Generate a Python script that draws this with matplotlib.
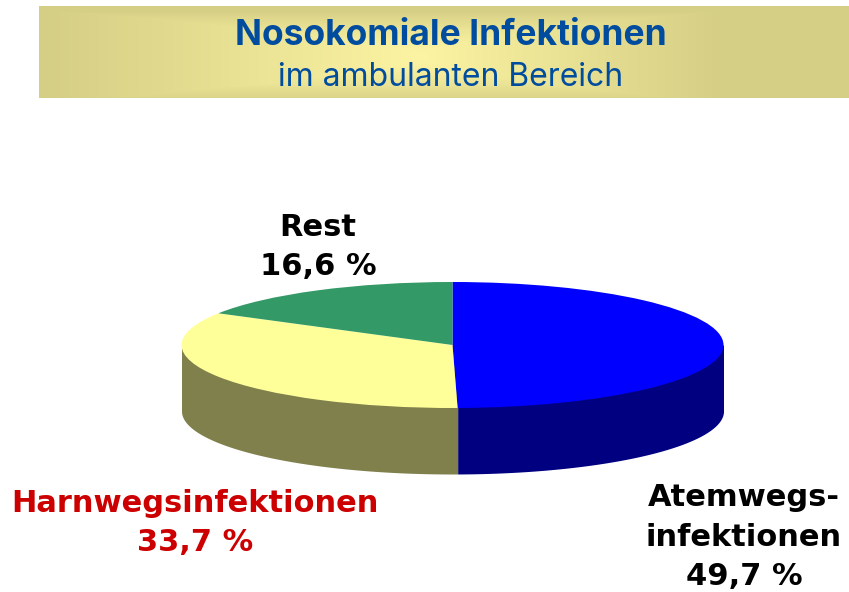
import numpy as np
import matplotlib
matplotlib.use('Agg')
import matplotlib.pyplot as plt

# ── Data ──────────────────────────────────────────────
labels = ["Atemwegs-\ninfektionen\n49,7 %", "Harnwegsinfektionen\n33,7 %", "Rest\n16,6 %"]
values = [49.7, 33.7, 16.6]
top_colors = ["#0000FF", "#FFFF99", "#339966"]
side_colors = ["#000080", "#80804D", "#1A4D33"]
label_colors = ["black", "#CC0000", "black"]

W, H = 849, 592
DEPTH = 66 / 63
fig = plt.figure(figsize=(W / 100, H / 100), dpi=100)

# ── Header band ───────────────────────────────────────
band = fig.add_axes([39 / W, 1 - 98 / H, (W - 39) / W, 92 / H])
xx, yy = np.meshgrid(np.arange(39, W) + 0.5, np.linspace(-1, 1, 92))
dx = xx - 420
gx = np.clip(1 - np.where(dx < 0, -dx / 370, dx / 300), 0, 1)
gy = np.clip(1 - np.abs(yy - 0.1) ** 1.6, 0, 1)
glow = np.minimum(gx, gy)
edge = np.array([213, 206, 133]) / 255
mid = np.array([252, 244, 162]) / 255
band.imshow(edge + glow[..., None] * (mid - edge), aspect='auto')
band.axis('off')

# ── Pie ───────────────────────────────────────────────
ax = fig.add_axes([0, 0, 1, 1])
ax.patch.set_alpha(0)
wedges, _ = ax.pie(values, colors=top_colors, startangle=90, counterclock=False, radius=1)
ax.set_aspect('auto')
ax.set_xlim(-452.5 / 271, (W - 452.5) / 271)
ax.set_ylim((345 - H) / 63, 345 / 63)
ax.axis('off')

# side wall, only the front half of the rim is visible
# filled up to y=0 so no seam shows along the rim, the wedges sit on top
start = 90.0
for val, col in zip(values, side_colors):
    end = start - val * 3.6
    lo, hi = max(end, -180.0), min(start, 0.0)
    if hi > lo:
        t = np.radians(np.linspace(lo, hi, 200))
        ax.fill_between(np.cos(t), np.sin(t) - DEPTH, 0, color=col, lw=0, zorder=0.5)
    start = end

# ── Text ──────────────────────────────────────────────
blue = "#004C9E"
fig.text(451 / W, 1 - 35.5 / H, "Nosokomiale Infektionen", color=blue, fontsize=25.5, fontweight='bold',
         family='Inter', ha='center', va='center')
fig.text(451 / W, 1 - 77 / H, "im ambulanten Bereich", color=blue, fontsize=23,
         family='Inter', ha='center', va='center')

label_pos = [(744, 537), (195, 523), (318, 247)]
for txt, col, (px, py) in zip(labels, label_colors, label_pos):
    fig.text(px / W, 1 - py / H, txt, color=col, fontsize=22, fontweight='bold',
             family='DejaVu Sans', ha='center', va='center', linespacing=1.45)

fig.savefig("out.png", dpi=100)
